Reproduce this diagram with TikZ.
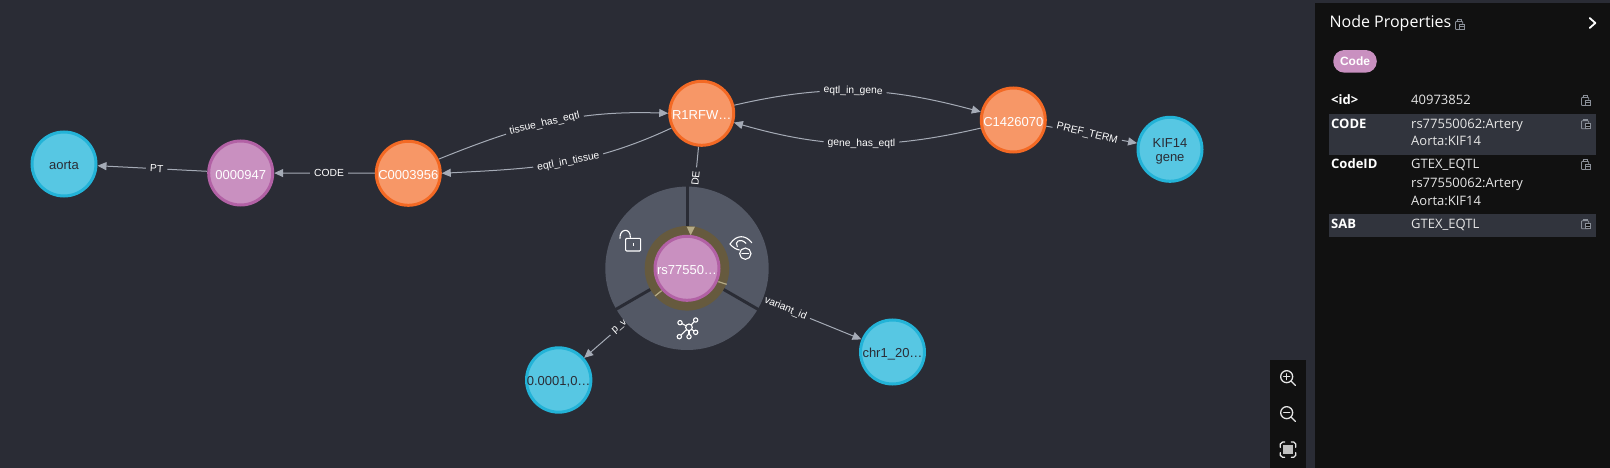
\documentclass[tikz,border=0pt]{standalone}
\usepackage{fontspec}
\setmainfont{Liberation Sans}
\newfontfamily\pfont{Open Sans}
\usetikzlibrary{arrows.meta,calc}
\definecolor{bgc}{HTML}{2A2C35}
\definecolor{panelc}{HTML}{111111}
\definecolor{rowc}{HTML}{31343D}
\definecolor{edgec}{HTML}{A5ABB6}
\definecolor{orangef}{HTML}{F79767}
\definecolor{oranged}{HTML}{F36924}
\definecolor{pinkf}{HTML}{C990C0}
\definecolor{pinkd}{HTML}{B261A5}
\definecolor{bluef}{HTML}{57C7E3}
\definecolor{blued}{HTML}{23B3D7}
\definecolor{menuc}{HTML}{535865}
\definecolor{ringc}{HTML}{665A3E}
\definecolor{tanc}{HTML}{B5AA85}
\definecolor{iconc}{HTML}{8A8F98}
\definecolor{txtc}{HTML}{E6E6E6}
\pgfdeclarelayer{edgelayer}
\pgfdeclarelayer{menulayer}
\pgfsetlayers{edgelayer,menulayer,main}
\newcommand{\fs}[1]{\fontsize{#1}{#1}\selectfont}
\newcommand{\nt}[1]{\raisebox{-1.8pt}[\height][\depth]{#1}}
\tikzset{
  gnode/.style={circle,minimum size=64pt,inner sep=0pt,line width=3pt,align=center,font=\fs{13}},
  orangenode/.style={gnode,fill=orangef,draw=oranged,text=white},
  pinknode/.style={gnode,fill=pinkf,draw=pinkd,text=white},
  bluenode/.style={gnode,fill=bluef,draw=blued,text=bgc},
  edgeline/.style={draw=edgec,line width=1pt,-{Triangle[length=9pt,width=8pt]}},
  elabel/.style={fill=bgc,text=white,font=\fs{10.3},inner xsep=4pt,inner ysep=1.5pt,sloped},
  ptext/.style={anchor=mid west,text=txtc,font=\pfont\fs{13},inner sep=0pt},
  pkey/.style={anchor=mid west,text=white,font=\pfont\bfseries\fs{13},inner sep=0pt},
  iconline/.style={draw=white,line width=1.1pt,line cap=round,line join=round},
  toolline/.style={draw=white!90!black,line width=1.3pt,line cap=round},
  copyicon/.pic={
    \begin{scope}[x=.9pt,y=.9pt]
    \draw[iconc,line width=.8pt,rounded corners=.8pt] (-5,-5) rectangle (3,4);
    \draw[iconc,line width=.8pt,fill=panelc] (-3,4) rectangle (1,6);
    \draw[iconc,line width=.8pt,fill=panelc] (-1,-5) rectangle (5,1);
    \draw[iconc,line width=.6pt] (-1,-2) -- (5,-2);
    \end{scope}
  }
}
\begin{document}
\begin{tikzpicture}[x=1pt,y=1pt]
\useasboundingbox (0,0) rectangle (1610,-468);
% graph nodes
\node[bluenode]   (aorta) at (64,-164) {\nt{aorta}};
\node[pinknode]   (n947)  at (240.7,-173) {\nt{0000947}};
\node[orangenode] (c3956) at (408.3,-173.3) {\nt{C0003956}};
\node[orangenode] (r1)    at (701.7,-113.3) {\nt{R1RFW…}};
\node[orangenode] (c1426) at (1013.3,-120) {\nt{C1426070}};
\node[bluenode]   (kif)   at (1170,-149.3) {\nt{KIF14}\\[1pt]\nt{gene}};
\node[pinknode]   (rs)    at (687,-268.3) {\nt{rs77550…}};
\node[bluenode]   (pv)    at (558.7,-380) {\nt{0.0001,0…}};
\node[bluenode]   (chr)   at (892.5,-352) {\nt{chr1\_20…}};
% connectors
\begin{pgfonlayer}{edgelayer}
\fill[bgc] (0,0) rectangle (1610,-468);
\draw[edgeline] (n947) -- node[elabel,pos=.46]{PT} (aorta);
\draw[edgeline] (c3956) -- node[elabel,pos=.455]{CODE} (n947);
\draw[edgeline] (c3956.25) to[out=22,in=178] node[elabel,pos=.47]{tissue\_has\_eqtl} (r1.180);
\draw[edgeline] (r1.206) to[out=205,in=3] node[elabel,pos=.46]{eqtl\_in\_tissue} (c3956.0);
\draw[edgeline] (r1.14) to[out=13,in=165] node[elabel,pos=.48]{eqtl\_in\_gene} (c1426.166);
\draw[edgeline] (c1426.194) to[out=193,in=-16] node[elabel,pos=.48]{gene\_has\_eqtl} (r1.-16);
\draw[edgeline] (c1426) -- node[elabel,pos=.45,rotate=-3]{PREF\_TERM} (kif);
\draw[edgeline] (r1) -- node[elabel,pos=.36]{DE} (rs);
\draw[edgeline] (rs) -- node[elabel,pos=.54]{p\_v} (pv);
\draw[edgeline] (rs) -- node[elabel,pos=.47]{variant\_id} (chr);
\end{pgfonlayer}
% radial menu
\begin{pgfonlayer}{menulayer}
\fill[menuc] (rs.center) circle (81.7);
\foreach \a in {90,210,330}{
  \draw[bgc,line width=3pt] (rs.center) -- ++(\a:82.5);
}
\fill[ringc] (rs.center) circle (42.3);
\begin{scope}[shift={(540pt,-130pt)},x=.33333pt,y=-.33333pt]
  % unlock icon
  \draw[iconline,rounded corners=1pt] (257,325) rectangle (302,363);
  \draw[iconline] (240,325) .. controls (238,295) and (272,292) .. (271,322);
  \draw[white,line width=1.2pt] (280,339) -- (280,347);
  % eye icon
  \draw[iconline] (570,342) .. controls (590,312) and (618,315) .. (635,338);
  \draw[iconline] (570,342) .. controls (578,352) and (588,358) .. (598,360);
  \draw[iconline] (592,350) .. controls (582,335) and (600,322) .. (618,340);
  \draw[iconline,fill=menuc] (616,371) circle[radius=17];
  \draw[iconline] (606,371) -- (626,371);
  % graph icon
  \foreach \p in {(420,578),(467,570),(467,607),(447,620),(418,620)}{
    \draw[iconline] (447,592) -- \p;
    \draw[iconline,fill=menuc] \p circle[radius=6.5];
  }
  \draw[iconline,fill=menuc] (447,592) circle[radius=10];
  % traces of the connectors under the highlight ring
  \fill[tanc] (452,316) -- (440,290) -- (465,290) -- cycle;
  \draw[tanc,line width=1.2pt] (535,455) -- (560,463);
  \draw[tanc,line width=1.2pt] (345,498) -- (365,482);
\end{scope}
\end{pgfonlayer}
% zoom toolbar
\fill[panelc] (1270,-360) rectangle (1306,-468);
\begin{scope}[shift={(1220pt,-340pt)},x=.33333pt,y=-.33333pt]
  \draw[toolline] (200,110) circle[radius=18];
  \draw[toolline] (213,123) -- (226,136);
  \draw[toolline] (191,110) -- (209,110) (200,101) -- (200,119);
  \draw[toolline] (200,218) circle[radius=18];
  \draw[toolline] (213,231) -- (226,244);
  \draw[toolline] (191,218) -- (209,218);
  \fill[white!75!black] (189,316) rectangle (219,343);
  \draw[toolline] (181,322) -- (181,312) -- (188,306) -- (194,306);
  \draw[toolline] (214,306) -- (221,306) -- (227,312) -- (227,322);
  \draw[toolline] (181,338) -- (181,346) -- (188,352) -- (194,352);
  \draw[toolline] (214,352) -- (221,352) -- (227,346) -- (227,338);
\end{scope}
% properties panel
\fill[panelc] (1315,-3) rectangle (1610,-468);
\begin{scope}[shift={(1230pt,0pt)},x=.33333pt,y=-.33333pt]
  \fill[rowc] (297,342) rectangle (1098,465);
  \fill[rowc] (297,642) rectangle (1098,711);
  \node[ptext,font=\pfont\fs{16},text=white] (ptitle) at (298,75) {Node Properties};
  \pic at (690,75) {copyicon};
  \draw[white,line width=1.8pt,line cap=round,line join=round] (1079,54) -- (1096,69) -- (1079,84);
  \node[fill=pinkf,rounded corners=11pt,minimum width=43.5pt,minimum height=22.6pt,inner sep=0pt,text=white,font=\bfseries\fs{12}] (badge) at (375,184) {Code};
  \node[pkey] (kid)  at (303,307) {<id>};
  \node[pkey] (kcode) at (303,377) {CODE};
  \node[pkey] (kcid) at (303,499) {CodeID};
  \node[pkey] (ksab) at (303,679) {SAB};
  \node[ptext] (vid)  at (543,307) {40973852};
  \node[ptext] (vc1)  at (543,377) {rs77550062:Artery};
  \node[ptext] (vc2)  at (543,430) {Aorta:KIF14};
  \node[ptext] (vi1)  at (543,499) {GTEX\_EQTL};
  \node[ptext] (vi2)  at (543,556) {rs77550062:Artery};
  \node[ptext] (vi3)  at (543,610) {Aorta:KIF14};
  \node[ptext] (vs)   at (543,679) {GTEX\_EQTL};
  \pic at (1068,303) {copyicon};
  \pic at (1068,373) {copyicon};
  \pic at (1068,495) {copyicon};
  \pic at (1068,673) {copyicon};
\end{scope}
\end{tikzpicture}
\end{document}
